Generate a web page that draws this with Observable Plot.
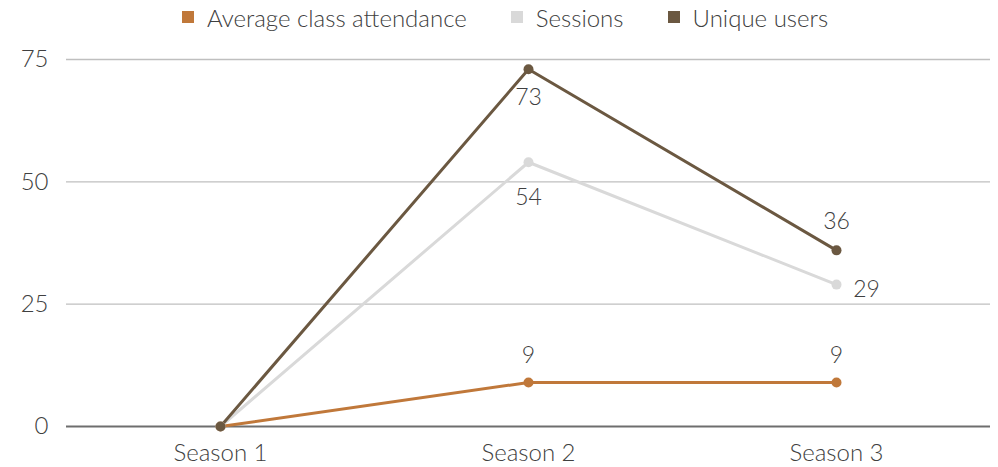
<!DOCTYPE html>
<html><head><meta charset="utf-8">
<script src="https://cdn.jsdelivr.net/npm/d3@7"></script>
<script src="https://cdn.jsdelivr.net/npm/@observablehq/plot@0.6"></script>
<style>
body{margin:0;background:#fff;font-family:"Lato Light",Lato,sans-serif;font-weight:300;}
#legend{height:38px;display:flex;justify-content:center;align-items:center;color:#404040;font-size:24px;padding-left:12px;padding-bottom:4px;box-sizing:border-box;}
#legend .item{display:flex;align-items:center;margin:0 22px;}
#legend .sw{width:12px;height:12px;margin-right:13px;}
svg text{font-family:"Lato Light",Lato,sans-serif;font-weight:300;}
</style></head>
<body>
<div id="legend"></div>
<div id="chart"></div>
<script>
const seasons = ["Season 1", "Season 2", "Season 3"];
const seriesNames = ["Average class attendance", "Sessions", "Unique users"];
const attendance = [0, 9, 9];
const sessions = [0, 54, 29];
const uniqueUsers = [0, 73, 36];
const colors = ["#C0783A", "#D9D9D9", "#6B5841"];
const yTicks = [0, 25, 50, 75];

const valuesBySeries = [attendance, sessions, uniqueUsers];
const data = [];
seriesNames.forEach((s, i) => seasons.forEach((season, j) => data.push({series: s, season, value: valuesBySeries[i][j], idx: j})));

const leg = document.getElementById("legend");
seriesNames.forEach((s, i) => {
  const it = document.createElement("div"); it.className = "item";
  const sw = document.createElement("div"); sw.className = "sw"; sw.style.background = colors[i];
  const t = document.createElement("span"); t.textContent = s;
  it.appendChild(sw); it.appendChild(t); leg.appendChild(it);
});

const labeled = d => d.idx > 0;
const txt = {x: "season", y: "value", text: d => String(d.value), fill: "#404040", fontSize: 23};
const chart = Plot.plot({
  width: 998, height: 429,
  marginTop: 21, marginBottom: 41, marginLeft: 66, marginRight: 8,
  x: {type: "point", domain: seasons, padding: 0.5, label: null},
  y: {domain: [0, 75], ticks: yTicks, label: null},
  color: {domain: seriesNames, range: colors},
  style: {fontSize: "24px", color: "#404040", fontFamily: "'Lato Light', Lato, sans-serif"},
  marks: [
    Plot.ruleY(yTicks.filter(t => t > 0), {stroke: "#BFBFBF", strokeWidth: 1.3}),
    Plot.ruleY([0], {stroke: "#6E6E6E", strokeWidth: 2}),
    Plot.axisY({ticks: yTicks, tickSize: 0, tickPadding: 18, fontSize: 24}),
    Plot.axisX({tickSize: 0, tickPadding: 17, fontSize: 24}),
    Plot.line(data, {x: "season", y: "value", z: "series", stroke: "series", strokeWidth: 3}),
    Plot.dot(data, {x: "season", y: "value", fill: "series", r: 5}),
    Plot.text(data.filter(d => labeled(d) && d.series === "Average class attendance"), {...txt, dy: -27}),
    Plot.text(data.filter(d => d.series === "Unique users" && d.idx === 1), {...txt, dy: 28}),
    Plot.text(data.filter(d => d.series === "Unique users" && d.idx === 2), {...txt, dy: -29}),
    Plot.text(data.filter(d => d.series === "Sessions" && d.idx === 1), {...txt, dy: 35}),
    Plot.text(data.filter(d => d.series === "Sessions" && d.idx === 2), {...txt, dx: 30, dy: 5})
  ]
});
document.getElementById("chart").appendChild(chart);
</script>
</body></html>
